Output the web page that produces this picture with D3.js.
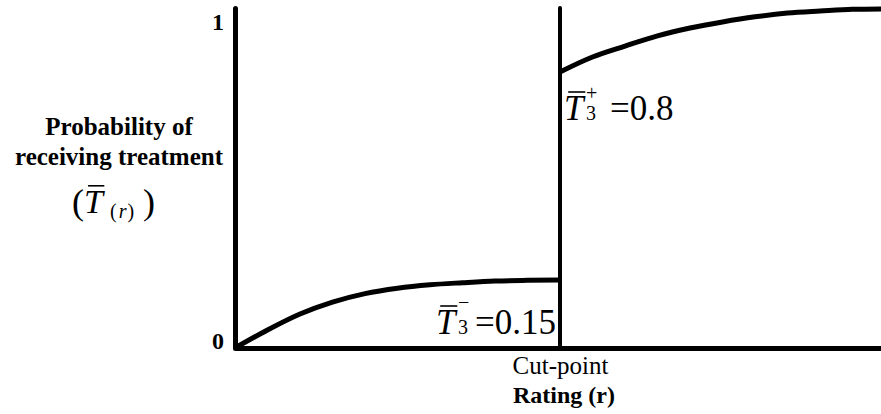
<!DOCTYPE html>
<html>
<head>
<meta charset="utf-8">
<script src="https://cdn.jsdelivr.net/npm/d3@7"></script>
<style>
  body { margin: 0; background: #fff; }
  svg { display: block; font-family: 'Liberation Serif', 'Times New Roman', serif; }
</style>
</head>
<body>
<svg id="chart" width="881" height="414"></svg>
<script>
// ratings and probability of receiving treatment
const cutPoint = 10;
const ratingsBelow = [0, 1, 2, 3, 4, 5, 6, 7, 8, 9, 10];
const probBelow = [0, 0.053, 0.1, 0.135, 0.16, 0.176, 0.186, 0.192, 0.197, 0.199, 0.2];
const ratingsAbove = [10, 11, 12, 13, 14, 15, 16, 17, 18, 19, 20];
const probAbove = [0.812, 0.856, 0.888, 0.918, 0.941, 0.959, 0.974, 0.985, 0.991, 0.996, 0.997];
const yTicks = [0, 1];
const yTickLabels = ['0', '1'];
const yTitle = ['Probability of', 'receiving treatment'];
const xTickLabel = 'Cut-point';
const xTitle = 'Rating (r)';
const labelBelow = { sign: '\u2212', value: '0.15' };
const labelAbove = { sign: '+', value: '0.8' };

const svg = d3.select('#chart');

const x = d3.scaleLinear().domain([0, 20]).range([235, 885]);
const y = d3.scaleLinear().domain([0, 1]).range([348, 8]);

// y axis
const yAxis = svg.append('g')
  .attr('transform', `translate(${x(0)},0)`)
  .call(d3.axisLeft(y).tickValues(yTicks).tickSize(0).tickSizeOuter(0).tickPadding(11)
    .tickFormat((d, i) => yTickLabels[i]));
yAxis.select('.domain').attr('stroke', '#000').attr('stroke-width', 5).attr('stroke-linecap', 'round');
yAxis.selectAll('text')
  .attr('font-family', 'Liberation Serif').attr('font-weight', 'bold').attr('font-size', 24).attr('fill', '#000')
  .attr('dy', (d) => (d === 1 ? 21 : 0));

// x axis
const xAxis = svg.append('g')
  .attr('transform', `translate(0,${y(0)})`)
  .call(d3.axisBottom(x).tickValues([cutPoint]).tickSize(0).tickSizeOuter(0).tickPadding(8)
    .tickFormat(() => xTickLabel));
xAxis.select('.domain').attr('stroke', '#000').attr('stroke-width', 5);
xAxis.selectAll('text')
  .attr('font-family', 'Liberation Serif').attr('font-size', 25).attr('fill', '#000');

svg.append('text')
  .attr('x', x(cutPoint) + 4).attr('y', 403)
  .attr('text-anchor', 'middle').attr('font-weight', 'bold').attr('font-size', 24)
  .text(xTitle);

// cut-point line
svg.append('line')
  .attr('x1', x(cutPoint)).attr('x2', x(cutPoint))
  .attr('y1', y(0)).attr('y2', y(1))
  .attr('stroke', '#000').attr('stroke-width', 4).attr('stroke-linecap', 'round');

// curves
const line = d3.line().x((d) => x(d[0])).y((d) => y(d[1])).curve(d3.curveMonotoneX);
svg.append('path')
  .datum(ratingsBelow.map((r, i) => [r, probBelow[i]]))
  .attr('d', line).attr('fill', 'none').attr('stroke', '#000').attr('stroke-width', 5);
svg.append('path')
  .datum(ratingsAbove.map((r, i) => [r, probAbove[i]]))
  .attr('d', line).attr('fill', 'none').attr('stroke', '#000').attr('stroke-width', 5);

// y title
svg.append('text')
  .attr('text-anchor', 'middle').attr('font-weight', 'bold').attr('font-size', 25)
  .selectAll('tspan').data(yTitle).join('tspan')
  .attr('x', 119).attr('y', (d, i) => 135 + i * 30)
  .text((d) => d);

// italic T with a bar over it
function overT(g, tx, ty, size) {
  const t = g.append('text').attr('x', tx).attr('y', ty)
    .attr('font-style', 'italic').attr('font-size', size).text('T');
  const bb = t.node().getBBox();
  const oy = ty - size * 0.8;
  g.append('line')
    .attr('x1', bb.x + size * 0.12).attr('x2', bb.x + bb.width - size * 0.02)
    .attr('y1', oy).attr('y2', oy)
    .attr('stroke', '#000').attr('stroke-width', 1.6);
  return bb.x + bb.width;
}

// ( T-bar (r) )
const tr = svg.append('g');
tr.append('text').attr('x', 72).attr('y', 214).attr('font-size', 36).text('(');
const trEnd = overT(tr, 84, 213, 34);
const sub = tr.append('text').attr('x', trEnd + 5).attr('y', 218).attr('font-size', 20).attr('fill', '#000');
sub.append('tspan').text('(');
sub.append('tspan').attr('dx', 2).attr('font-style', 'italic').text('r');
sub.append('tspan').attr('dx', 1).text(')');
tr.append('text').attr('x', trEnd + 38).attr('y', 214).attr('font-size', 36).text(')');

// T3 labels at the cut-point
function tLabel(tx, ty, lab, gap, signDy) {
  const g = svg.append('g');
  const end = overT(g, tx, ty, 35);
  g.append('text').attr('x', end).attr('y', ty).attr('font-size', 20).text('3');
  g.append('text').attr('x', end).attr('y', ty - signDy).attr('font-size', 20).text(lab.sign);
  g.append('text').attr('x', end + gap).attr('y', ty).attr('font-size', 35).text('=' + lab.value);
}
tLabel(436, 334, labelBelow, 17, 25);
tLabel(564, 120, labelAbove, 24, 20);
</script>
</body>
</html>
